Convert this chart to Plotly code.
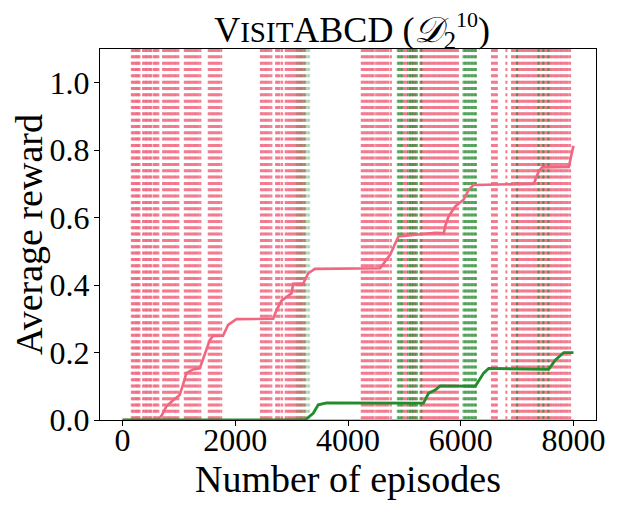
import plotly.graph_objects as go

# average reward curves (episode, reward)
pink_x = [0, 628, 700, 776, 866, 1013, 1072, 1132, 1250, 1369, 1428, 1547, 1605,
          1783, 1872, 2021, 2672, 2732, 2821, 2999, 3028, 3206, 3295, 3413,
          4569, 4747, 4895, 5547, 5700, 5724, 5783, 5902, 6050, 6139, 6228,
          7295, 7383, 7443, 7917, 8000]
pink_y = [0.0, 0.0, 0.015, 0.04, 0.054, 0.074, 0.104, 0.139, 0.15, 0.153, 0.18, 0.237, 0.249,
          0.25, 0.282, 0.299, 0.30, 0.326, 0.354, 0.376, 0.404, 0.405, 0.435, 0.448,
          0.45, 0.49, 0.544, 0.555, 0.554, 0.574, 0.603, 0.633, 0.653, 0.682, 0.697,
          0.70, 0.737, 0.749, 0.75, 0.813]

green_x = [0, 3236, 3383, 3472, 3621, 5339, 5428, 5547, 5636, 6258, 6406, 6495,
           7561, 7680, 7828, 8000]
green_y = [0.0, 0.0, 0.02, 0.045, 0.051, 0.05, 0.079, 0.089, 0.101, 0.10, 0.139, 0.153,
           0.15, 0.178, 0.20, 0.20]

blue_x = [0, 8000]
blue_y = [0.0, 0.0]

# episodes marked with vertical dashed lines
pink_marks = [165, 190, 215, 240, 260, 280, 300, 365, 390, 415, 435, 465, 490, 510,
              555, 580, 605, 635, 720, 750, 780, 810, 840, 870, 900, 930, 960, 990,
              1105, 1135, 1165, 1195, 1225, 1255, 1285, 1315, 1345, 1380,
              1530, 1560, 1590, 1620, 1650, 1680, 1710, 1750,
              2455, 2485, 2515, 2545, 2575, 2605, 2640, 2725, 2755, 2785, 2830,
              2895, 2925, 2955, 2985, 3015, 3045, 3075, 3105, 3135, 3165, 3195, 3230,
              4245, 4275, 4305, 4335, 4365, 4395, 4425, 4455, 4500,
              4535, 4565, 4595, 4625, 4655, 4685, 4715, 4760,
              4980, 5010, 5045, 5105, 5150, 5190,
              5285, 5315, 5345, 5375, 5405, 5435, 5465, 5495, 5525, 5555, 5585, 5615,
              5645, 5675, 5705, 5735, 5765, 5795, 5825, 5855, 5885, 5915, 5950,
              6555, 6585, 6615, 6640, 6810,
              6910, 6940, 6970, 7000, 7030, 7060, 7090, 7120, 7150, 7180, 7210, 7240,
              7270, 7300, 7330, 7360, 7390, 7420, 7450, 7480, 7510, 7540, 7570, 7600,
              7630, 7660, 7690, 7720, 7750, 7780, 7810, 7840, 7870, 7900, 7940]
green_marks = [4885, 4910, 4935, 4955, 5070, 5100, 5130, 5155, 5195, 5225, 5300,
               6050, 6075, 6100, 6125, 6150, 6175, 6200, 6225, 6250, 6270,
               7000, 7380, 7465, 7555]
green_marks_faint = [3100, 3140, 3180, 3220, 3250, 3280, 3310]

PINK = '#f0677f'
GREEN = '#238b2b'
YTOP = 1.1
DASH = '3px,3.33px'


def vlines(xs):
    x, y = [], []
    for v in xs:
        x += [v, v, None]
        y += [YTOP, 0, None]
    return x, y


fig = go.Figure()

for marks, col in [(pink_marks, 'rgba(240,103,127,0.85)'),
                   (green_marks_faint, 'rgba(35,139,43,0.3)'),
                   (green_marks, 'rgba(35,139,43,0.65)')]:
    vx, vy = vlines(marks)
    fig.add_trace(go.Scatter(x=vx, y=vy, mode='lines', connectgaps=False,
                             line=dict(color=col, width=2.1, dash=DASH),
                             hoverinfo='skip', showlegend=False))

fig.add_trace(go.Scatter(x=blue_x, y=blue_y, mode='lines',
                         line=dict(color='#8fb4e0', width=1.5), showlegend=False))
fig.add_trace(go.Scatter(x=pink_x, y=pink_y, mode='lines',
                         line=dict(color=PINK, width=2.6), showlegend=False))
fig.add_trace(go.Scatter(x=green_x, y=green_y, mode='lines',
                         line=dict(color=GREEN, width=2.8), showlegend=False))

font = "Liberation Serif, Times New Roman, serif"
# page body adds an 8px offset, so the figure is drawn 8px smaller
fig.update_layout(
    width=609, height=501,
    margin=dict(l=92, r=21, t=41, b=89),
    plot_bgcolor='white', paper_bgcolor='white',
    font=dict(family=font, size=32, color='black'),
    title=dict(text="V<span style='font-size:29px'>ISIT</span>ABCD (<i>𝒟</i>"
                    "<sub>2</sub><sup><span style='font-size:22px'>10</span></sup>)",
               x=0.565, xanchor='center', y=0.958, yanchor='middle', yref='container',
               font=dict(family=font, size=36, color='black')),
)
fig.update_xaxes(range=[-400, 8400], tickvals=[0, 2000, 4000, 6000, 8000],
                 ticks='outside', ticklen=5, tickwidth=1.2, tickcolor='black',
                 showline=True, linecolor='black', linewidth=1.3, mirror=True,
                 showgrid=False, zeroline=False, automargin=False,
                 ticklabelstandoff=-14,
                 title=dict(text='Number of episodes', standoff=0))
fig.update_yaxes(range=[0, YTOP], tickvals=[0, 0.2, 0.4, 0.6, 0.8, 1.0], tickformat='.1f',
                 ticks='outside', ticklen=5, tickwidth=1.2, tickcolor='black',
                 showline=True, linecolor='black', linewidth=1.3, mirror=True,
                 showgrid=False, zeroline=False, automargin=False,
                 ticklabelstandoff=-2,
                 title=dict(text='Average reward', standoff=8))

fig.write_html("out.html")
